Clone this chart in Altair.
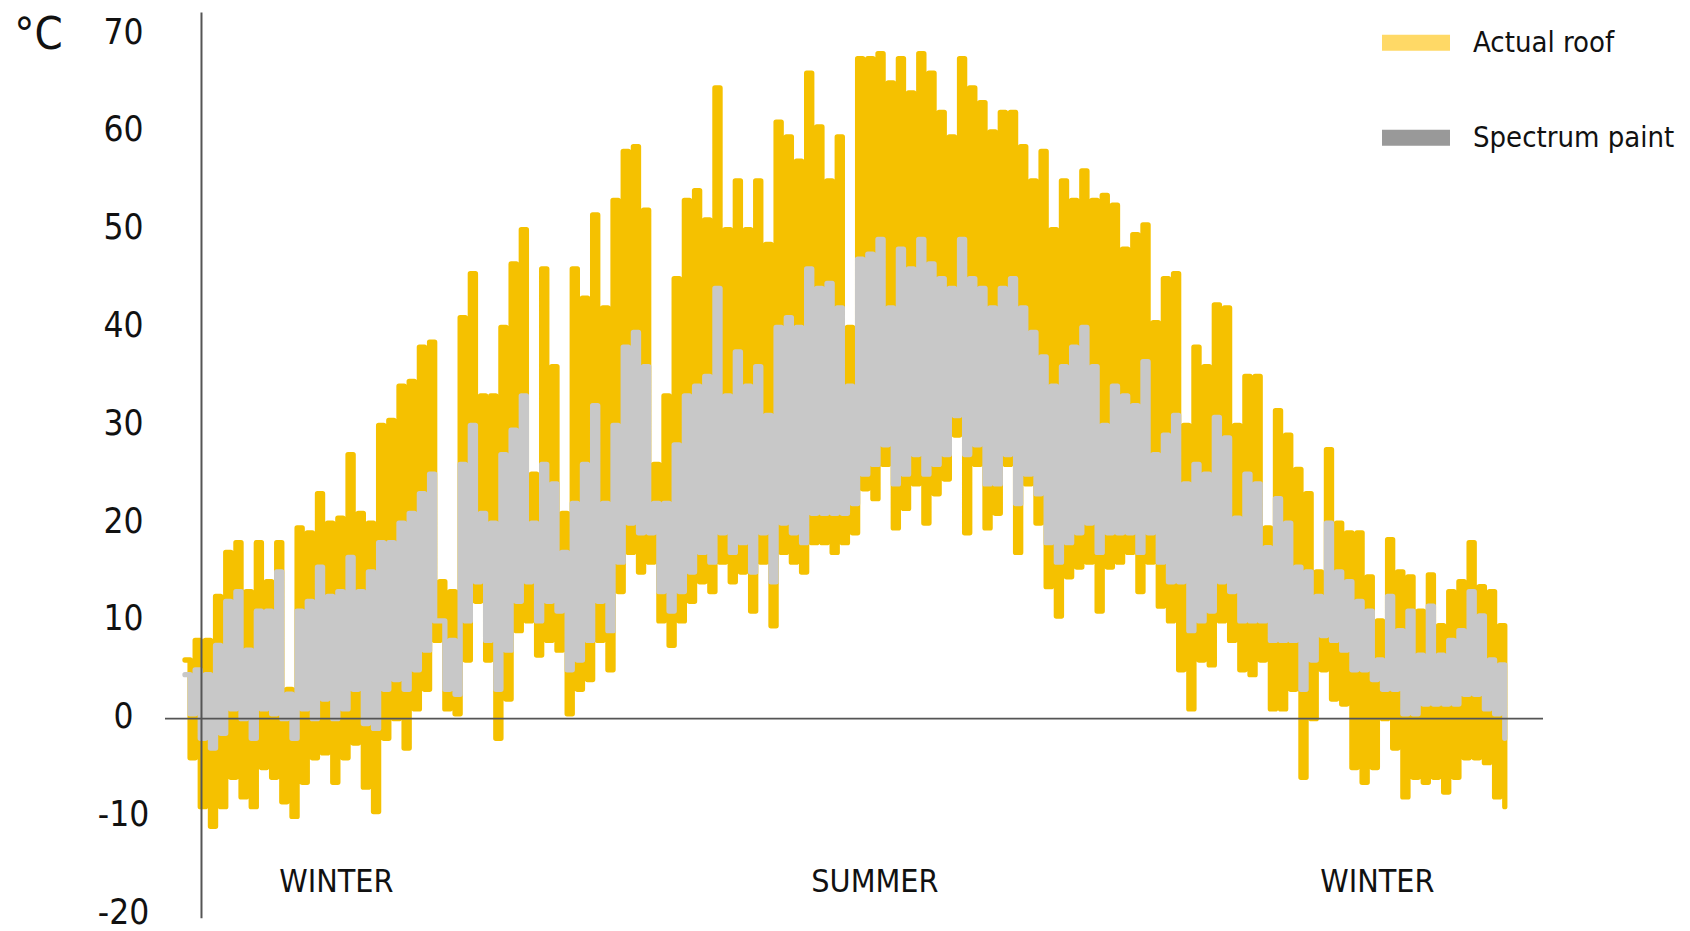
import altair as alt
import pandas as pd

# ---- data (one value per ~2.8-day slot) ----
roof_high = [6, 8, 8, 12.5, 17, 18, 13, 18, 14, 18,
             3, 19.5, 19, 23, 20, 20.5, 27, 21, 20, 30,
             30.5, 34, 34.5, 38, 38.5, 14, 13, 41, 45.5, 33,
             33, 40, 46.5, 50, 25, 46, 36, 21, 46, 43,
             51.5, 42, 53, 58, 58.5, 52, 26, 33, 45, 53,
             54, 51, 64.5, 50, 55, 50, 55, 48.5, 61, 59.5,
             57, 66, 60.5, 55, 59.5, 40, 67.5, 67.5, 68, 65,
             67.5, 64, 68, 66, 62, 59.5, 67.5, 64.5, 63, 60,
             62, 62, 58.5, 55, 58, 50, 55, 53, 56, 53,
             53.5, 52.5, 48, 49.5, 50.5, 40.5, 45, 45.5, 30, 38,
             36, 42.3, 42, 30, 35, 35, 19.5, 31.5, 29, 25.5,
             23, 15, 27.5, 20, 19, 19, 14.5, 10, 18.3, 15,
             14.5, 11, 14.7, 9.5, 13, 14, 18, 13.5, 13, 9.5]
roof_low = [-4, -9, -11, -9, -6, -8, -9, -5, -6, -8.5,
            -10, -6.5, -4, -3.5, -6.5, -4, -2.5, -7, -9.5, -2,
            0, -3, 1, 3, 8, 1, 0.5, 6, 12, 6,
            -2, 2, 9, 10, 6.5, 8, 7, 0.5, 3, 4,
            8, 5, 13, 17, 15, 16, 10, 7.5, 10, 12,
            14, 13, 16, 14, 15, 11, 16, 9.5, 17, 16,
            15, 18, 18, 17, 18, 19, 23.5, 22.5, 26, 19.5,
            21.5, 24, 20, 23, 24.5, 29, 19, 26, 19.5, 21,
            26, 17, 24, 20, 13.5, 10.5, 14.5, 15.5, 16, 11,
            15.5, 16, 17, 13, 16, 11.5, 10, 5, 1, 6,
            5.5, 10, 8, 5, 4.5, 6, 1, 1, 3, -6,
            0, 5, 2, 1.5, -5, -6.5, -5, 0, -3, -8,
            -6, -6.5, -6, -7.5, -6, -4, -4, -4.5, -8, -9]
paint_high = [4.5, 5, 4.5, 7.5, 12, 13, 7, 11, 11, 15,
              2.5, 11, 12, 15.5, 12.5, 13, 16.5, 13, 15, 18,
              18, 20, 21, 23, 25, 10, 8, 26, 30, 21,
              20, 27, 29.5, 33, 20, 26, 24, 17, 22, 26,
              32, 22, 30, 38, 39.5, 36, 22, 22, 28, 33,
              34, 35, 44, 33, 37.5, 34, 36, 31, 40, 41,
              40, 46, 44, 44.5, 42, 34, 47, 47.5, 49, 42,
              48, 46, 49, 46.5, 45, 44, 49, 45, 44, 42,
              44, 45, 42, 39.5, 37, 34, 36, 38, 40, 36,
              30, 34, 33, 32, 36.5, 27, 29, 31, 24, 26,
              25, 30.8, 28.7, 20.5, 25, 24, 17.5, 22.5, 20, 15.5,
              15, 12.5, 20, 15, 14, 12, 11, 6, 12.5, 9,
              11, 6.5, 11.5, 6.5, 8, 9, 13, 10.5, 6, 5.5]
paint_low = [0.5, -2, -3, -1.5, 1, 0, -2, 1, 0.5, 0,
             -2, 1, 0, 2, 0, 1, 3, -0.5, -1, 3,
             4, 3, 5, 7, 10, 3, 2.5, 10, 14, 8,
             3, 7, 12, 14, 10, 12, 11, 5, 6, 8,
             12, 9, 16, 20, 19, 19, 13, 11, 13, 15,
             17, 16, 19, 17, 18, 15, 19, 14, 20, 19,
             18, 21, 21, 21, 21, 22, 25, 26, 28, 24,
             25, 27, 25, 26, 27, 31, 27, 28, 24, 24,
             27, 22, 25, 23, 18, 16, 18, 19, 20, 17,
             19, 19, 19, 17, 19, 16, 14, 14, 9, 10,
             11, 14, 13, 10, 10, 10, 8, 8, 8, 3,
             6, 8.5, 8, 7, 5, 5, 4, 3, 3, 0.5,
             0.5, 1.5, 1.5, 1.5, 1.5, 2.5, 2.5, 1, 0.5, -2]

series_names = ["Actual roof", "Spectrum paint"]
line_colors = ["#F5C100", "#C8C8C8"]
legend_colors = ["#FFD966", "#999999"]
y_ticks = [-20, -10, 0, 10, 20, 30, 40, 50, 60, 70]
season_labels = ["WINTER", "SUMMER", "WINTER"]
season_pos = [29.7, 135.4, 234.0]
season_y = [-16.7, -16.7, -16.7]

FONT = "'Noto Sans ExtraCondensed', 'Noto Sans Condensed', 'Liberation Sans Narrow', 'DejaVu Sans Condensed', sans-serif"


def zigzag(highs, lows, name):
    rows = []
    for i, (h, l) in enumerate(zip(highs, lows)):
        rows.append({"t": 2 * i, "temp": h, "series": name})
        rows.append({"t": 2 * i + 1, "temp": l, "series": name})
    return pd.DataFrame(rows)


roof_df = zigzag(roof_high, roof_low, series_names[0])
paint_df = zigzag(paint_high, paint_low, series_names[1])

xscale = alt.Scale(domain=[-3.92, 266.5], nice=False, zero=False)
yscale = alt.Scale(domain=[-21, 72.5], nice=False, zero=False)

yaxis = alt.Axis(values=y_ticks, domain=False, ticks=False, tickSize=0, grid=False,
                 labelExpr="datum.value + ''", labelFont=FONT, labelFontSize=35,
                 labelColor="#111111", labelAlign="center", labelBaseline="middle",
                 labelPadding=42, labelOffset=-2, title="°C", titleAngle=0, titleFont=FONT,
                 titleFontSize=45, titleFontWeight="normal", titleColor="#111111",
                 titleAlign="center", titleBaseline="middle", titleX=-127, titleY=25)


def Y(field):
    return alt.Y(field, scale=yscale, axis=yaxis)


def X(field):
    return alt.X(field, scale=xscale, axis=None)


roof = alt.Chart(roof_df).mark_line(
    interpolate="step-after", strokeWidth=5.3, strokeJoin="round", strokeCap="round",
    color=line_colors[0]
).encode(x=X("t:Q"), y=Y("temp:Q"))

paint = alt.Chart(paint_df).mark_line(
    interpolate="step-after", strokeWidth=5.3, strokeJoin="round", strokeCap="round",
    color=line_colors[1]
).encode(x=X("t:Q"), y=Y("temp:Q"))

zero_rule = alt.Chart(pd.DataFrame({"temp": [0]})).mark_rule(
    color="#555555", strokeWidth=1.6
).encode(y=Y("temp:Q"))

vaxis_rule = alt.Chart(pd.DataFrame({"t": [3.24], "temp": [72.2], "temp2": [-20.4]})).mark_rule(
    color="#555555", strokeWidth=2
).encode(x=X("t:Q"), y=Y("temp:Q"), y2="temp2:Q")

seasons = alt.Chart(pd.DataFrame({"label": season_labels, "t": season_pos, "temp": season_y})).mark_text(
    font=FONT, fontSize=32, color="#111111", align="center", baseline="middle"
).encode(x=X("t:Q"), y=Y("temp:Q"), text="label:N")

legend_layer = alt.Chart(pd.DataFrame({"series": series_names, "t": [0, 0], "temp": [0, 0]})).mark_point(
    shape="square", filled=True, opacity=0
).encode(
    x=X("t:Q"), y=Y("temp:Q"),
    fill=alt.Fill("series:N", scale=alt.Scale(domain=series_names, range=legend_colors),
                  legend=alt.Legend(title=None, orient="none", legendX=1217, legendY=-1,
                                    direction="vertical", symbolType="M-1,-0.235H1V0.235H-1Z",
                                    symbolSize=4624, symbolStrokeWidth=0, symbolOpacity=1,
                                    labelFont=FONT, labelFontSize=29, labelColor="#111111",
                                    labelOffset=23, rowPadding=46, padding=0, labelLimit=400)),
)

chart = alt.layer(roof, paint, zero_rule, vaxis_rule, seasons, legend_layer).properties(
    width=1378, height=914.4,
    padding={"left": 157, "top": 1.65, "right": 139, "bottom": 7},
    autosize="none",
).configure(background="white").configure_view(stroke=None)

chart.save("out.html", embed_options={"renderer": "svg", "actions": False})
